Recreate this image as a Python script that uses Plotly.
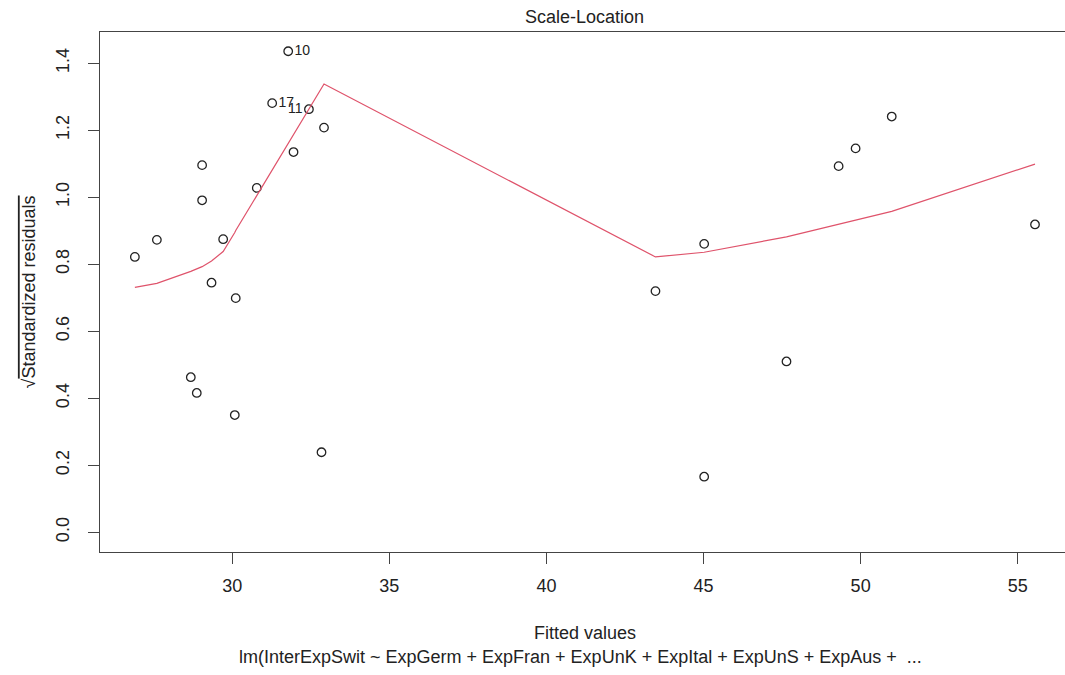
import plotly.graph_objects as go

# Fitted values and sqrt(|standardized residuals|)
fitted = [26.90, 27.60, 28.68, 28.87, 29.04, 29.04, 29.34, 29.71, 30.11, 30.08,
          30.78, 31.27, 31.78, 31.95, 32.44, 32.92, 32.84, 43.47, 45.02, 45.02,
          47.64, 49.30, 49.84, 50.99, 55.55]
sqrt_std_resid = [0.822, 0.873, 0.463, 0.416, 1.096, 0.991, 0.745, 0.875, 0.699, 0.350,
                  1.028, 1.281, 1.436, 1.135, 1.263, 1.208, 0.239, 0.720, 0.861, 0.166,
                  0.510, 1.093, 1.146, 1.241, 0.919]
point_labels = ["", "", "", "", "", "", "", "", "", "",
                "", "17", "10", "", "11", "", "", "", "", "",
                "", "", "", "", ""]
label_side = ["middle right"] * 25
label_side[14] = "middle left"

# Smoother (lowess) line
smooth_x = [26.90, 27.60, 28.68, 28.87, 29.04, 29.34, 29.71, 30.08, 30.11, 30.78,
            31.27, 31.78, 31.95, 32.44, 32.84, 32.92, 43.47, 45.02, 47.64, 49.30,
            49.84, 50.99, 55.55]
smooth_y = [0.731, 0.743, 0.779, 0.787, 0.793, 0.810, 0.838, 0.895, 0.901, 1.005,
            1.081, 1.161, 1.187, 1.264, 1.327, 1.338, 0.822, 0.836, 0.882, 0.920,
            0.932, 0.958, 1.099]

x_ticks = [30, 35, 40, 45, 50, 55]
y_ticks = [0.0, 0.2, 0.4, 0.6, 0.8, 1.0, 1.2, 1.4]
y_tick_text = ["0.0", "0.2", "0.4", "0.6", "0.8", "1.0", "1.2", "1.4"]

FONT = "Liberation Sans, Arial, sans-serif"
AX = "#444444"

fig = go.Figure()
fig.add_trace(go.Scatter(
    x=fitted, y=sqrt_std_resid, mode="markers+text",
    text=point_labels, textposition=label_side,
    textfont=dict(family=FONT, size=14, color="#222222"),
    marker=dict(symbol="circle-open", size=8.5, color="#222222", line=dict(width=1.3)),
    showlegend=False, hoverinfo="x+y"))
fig.add_trace(go.Scatter(
    x=smooth_x, y=smooth_y, mode="lines",
    line=dict(color="#DF536B", width=1.2),
    showlegend=False, hoverinfo="skip"))

fig.update_layout(
    width=1065, height=675,
    margin=dict(l=100, r=0, t=32, b=123),
    paper_bgcolor="white", plot_bgcolor="white",
    font=dict(family=FONT, size=18, color="#222222"),
    xaxis=dict(range=[25.79, 56.505], tickvals=x_ticks, ticks="outside", ticklen=11,
               tickcolor=AX, tickwidth=1, showline=True, linecolor=AX, linewidth=1.2,
               mirror=True, showgrid=False, zeroline=False, ticklabelstandoff=6,
               tickfont=dict(size=18)),
    yaxis=dict(range=[-0.0588, 1.4934], tickvals=y_ticks, ticktext=y_tick_text,
               ticks="outside", ticklen=11, tickcolor=AX, tickwidth=1, tickangle=-90,
               showline=True, linecolor=AX, linewidth=1.2, mirror=False,
               showgrid=False, zeroline=False, ticklabelstandoff=12,
               tickfont=dict(size=18),
               title=dict(text="√<span style='text-decoration:overline'>Standardized residuals</span>",
                          font=dict(size=18), standoff=12)),
    annotations=[
        dict(text="Scale-Location", xref="paper", yref="paper", x=0.5, y=1,
             xshift=2, yshift=15, showarrow=False, font=dict(size=18),
             xanchor="center", yanchor="middle"),
        dict(text="Fitted values", xref="paper", yref="paper", x=0.5, y=0,
             xshift=2, yshift=-81, showarrow=False, font=dict(size=18),
             xanchor="center", yanchor="middle"),
        dict(text="lm(InterExpSwit ~ ExpGerm + ExpFran + ExpUnK + ExpItal + ExpUnS + ExpAus +  ...",
             xref="paper", yref="paper", x=0.5, y=0, xshift=-2, yshift=-105,
             showarrow=False, font=dict(size=18), xanchor="center", yanchor="middle"),
    ],
)

fig.write_html("out.html", config={"displayModeBar": False},
               post_script="document.body.style.margin='0';document.body.style.overflow='hidden';")
